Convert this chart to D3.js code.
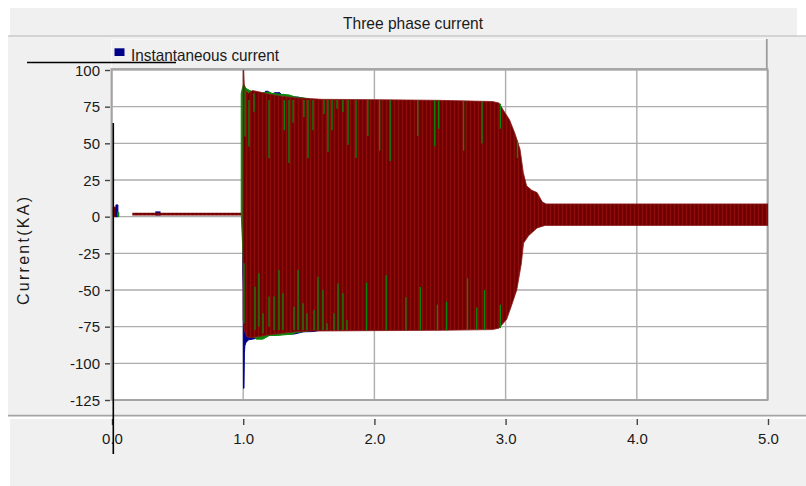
<!DOCTYPE html>
<html><head><meta charset="utf-8">
<script src="https://cdn.jsdelivr.net/npm/d3@7"></script>
<style>
html,body{margin:0;padding:0;background:#fff;}
svg{display:block;font-family:"Liberation Sans",Arial,Helvetica,sans-serif;}
</style>
</head><body>
<svg id="chart" width="806" height="486"></svg>
<script>
// ---------------- DATA ----------------
const chartTitle = "Three phase current";
const legendLabel = "Instantaneous current";
const yAxisTitle = "Current(KA)";
const xTickValues = [0, 1, 2, 3, 4, 5];
const xTickLabels = ["0.0", "1.0", "2.0", "3.0", "4.0", "5.0"];
const yTickValues = [100, 75, 50, 25, 0, -25, -50, -75, -100, -125];
const yTickLabels = ["100", "75", "50", "25", "0", "-25", "-50", "-75", "-100", "-125"];

// Pre-fault (t < 1 s) small currents, envelope per phase
const redPreT = [0.010, 0.020, 0.030, 0.036];
const redPreHi = [6.5, 6.6, 6.0, 5.0];
const bluePreT = [0.030, 0.045];
const bluePreHi = [8.0, 8.0];
const greenPreT = [0.044, 0.052];
const greenPreHi = [3.0, 3.0];
const loadBandT = [0.155, 0.998];
const loadBandHi = [2.7, 2.7];
const loadBandLo = [0.8, 0.8];
const blueBumpT = [0.33, 0.37];
const blueBumpHi = [3.6, 3.6];

// Fault current envelopes (kA) – phase C (red)
const redUpT = [0.998, 1.000, 1.004, 1.008, 1.02, 1.04, 1.07, 1.10, 1.15, 1.20, 1.30, 1.40, 1.50, 1.60, 2.00, 2.50, 2.90, 2.95, 2.98, 3.03, 3.07, 3.11, 3.135, 3.16, 3.20, 3.24, 3.28, 3.31, 5.00];
const redUpV = [0, 100, 100, 90, 86, 84, 86, 85.5, 84.5, 83.5, 82, 81, 80.5, 80, 79.8, 79.3, 78.5, 77.5, 73, 66, 57, 46, 30, 21, 18, 16.4, 10, 8.7, 8.7];
const redDnT = [0.998, 1.000, 1.010, 1.03, 1.06, 1.10, 1.20, 1.30, 1.40, 1.50, 2.00, 2.50, 2.90, 2.95, 3.008, 3.04, 3.085, 3.12, 3.137, 3.175, 3.24, 3.30, 5.00];
const redDnV = [0, -70, -78, -82, -82.5, -82, -80.5, -79.5, -78.5, -78, -77.7, -77.5, -77, -76, -70, -62, -50, -32, -18, -13, -7.7, -6, -6];

// phase A (blue)
const blueUpT = [1.000, 1.15, 1.17, 1.19, 1.21, 1.24, 1.28, 1.30, 1.31, 1.33, 1.42, 1.50];
const blueUpV = [0, 83, 85.5, 85.5, 83, 84.5, 84.5, 82, 83.5, 82, 81.5, 80];
const blueDnT = [0.997, 1.000, 1.002, 1.006, 1.009, 1.013, 1.02, 1.04, 1.07, 1.10, 1.16, 1.20, 1.25, 1.31, 1.39, 1.46, 1.54, 1.60];
const blueDnV = [-36, -50, -117, -117, -93, -88, -86, -84, -83.5, -83, -81, -81, -80, -80, -80, -78.5, -78.3, -77];

// phase B (green)
const greenUpT = [0.985, 0.995, 1.003, 1.008, 1.012, 1.03, 1.05, 1.10, 1.20, 1.22, 1.35, 1.40, 1.50];
const greenUpV = [84, 88, 90, 90, 88, 87, 86, 84, 85, 84, 83, 81.5, 80.5];
const greenDnT = [0.985, 1.000, 1.010, 1.05, 1.10, 1.15, 1.20, 1.26, 1.38, 1.40, 1.50];
const greenDnV = [2.5, -30, -76, -80, -83.5, -83.5, -81, -81, -80, -79, -78];

// individual green peaks visible inside the red band
const greenSpikeT  = [1.014, 1.044, 1.082, 1.197, 1.313, 1.349, 1.380, 1.463, 1.494, 1.532, 1.616, 1.646, 1.677, 1.715, 1.760, 1.799, 1.86, 1.95, 2.04, 2.12, 2.33, 2.46, 2.49, 2.68, 2.82, 2.96, 3.09,
                      1.006, 1.090, 1.120, 1.151, 1.197, 1.235, 1.273, 1.303, 1.387, 1.418, 1.456, 1.486, 1.540, 1.570, 1.608, 1.639, 1.692, 1.723, 1.760, 1.791, 1.94, 2.09, 2.24, 2.35, 2.48, 2.55, 2.71, 2.78, 2.84, 2.96];
const greenSpikeHi = [88.8, 79.6, 84, 79.6, 79.6, 79.6, 79.6, 79.6, 79.6, 79.6, 79.6, 79.6, 79.6, 79.6, 79.6, 79.6, 79.5, 79.5, 79.5, 79.3, 79.3, 79.3, 79.2, 79, 78.6, 77, 52,
                      -31.8, -47.7, -38.6, -65.9, -54.5, -54.5, -36.4, -52.3, -61.4, -36.4, -59, -65.9, -63.6, -40.9, -50, -72.7, -65.9, -45.5, -52.3, -70.5, -45, -40, -55, -48, -60, -58, -42, -62, -50, -60];
const greenSpikeLo = [54.6, 47.9, 71.6, 39.8, 59, 36.6, 64, 68, 39.8, 59, 70, 44.3, 59, 73.6, 71.4, 49, 40, 55, 45, 38, 55, 48, 60, 45, 50, 60, 40,
                      -72.7, -77.3, -75, -79.5, -75, -77.3, -77.3, -77.3, -77.3, -77.3, -77.3, -77.3, -77.3, -77.3, -77.3, -77.3, -77.3, -77.3, -77.3, -77.3, -77.5, -77.5, -77.5, -77.5, -77.5, -77.5, -77, -77, -77, -76];

// ---------------- LAYOUT ----------------
const svg = d3.select("#chart");
const plot = {left: 112, right: 768, top: 70, bottom: 400};
const x = d3.scaleLinear().domain([0, 5]).range([plot.left, plot.right]);
const y = d3.scaleLinear().domain([-125, 100]).range([plot.bottom, plot.top]);

const RED = "#7d0000", BLUE = "#00008f", GREEN = "#0a870a";

const defs = svg.append("defs");
const pat = defs.append("pattern").attr("id", "stripes").attr("patternUnits", "userSpaceOnUse")
  .attr("width", 4).attr("height", 10);
pat.append("rect").attr("width", 4).attr("height", 10).attr("fill", "#800000");
pat.append("rect").attr("x", 0).attr("width", 1).attr("height", 10).attr("fill", "#6c0000");
pat.append("rect").attr("x", 2).attr("width", 1).attr("height", 10).attr("fill", "#8c0c0c");
defs.append("clipPath").attr("id", "plotclip").append("rect")
  .attr("x", plot.left).attr("y", plot.top).attr("width", plot.right - plot.left).attr("height", plot.bottom - plot.top);

// background panels
svg.append("rect").attr("x", 0).attr("y", 0).attr("width", 806).attr("height", 486).attr("fill", "#ffffff");
svg.append("rect").attr("x", 10).attr("y", 8).attr("width", 787).attr("height", 28).attr("fill", "#f0f0f0");
svg.append("rect").attr("x", 8).attr("y", 36.5).attr("width", 798).attr("height", 378.5).attr("fill", "#f0f0f0");
svg.append("rect").attr("x", 10).attr("y", 419).attr("width", 796).attr("height", 67).attr("fill", "#f0f0f0");
svg.append("line").attr("x1", 8).attr("x2", 806).attr("y1", 36).attr("y2", 36).attr("stroke", "#b2b2b2").attr("stroke-width", 1);
svg.append("line").attr("x1", 8).attr("x2", 806).attr("y1", 415.7).attr("y2", 415.7).attr("stroke", "#a4a4a4").attr("stroke-width", 1.8);

// title
svg.append("text").attr("x", 413).attr("y", 29).attr("text-anchor", "middle")
  .attr("font-size", 17).attr("fill", "#1a1a1a")
  .attr("textLength", 140).attr("lengthAdjust", "spacingAndGlyphs").text(chartTitle);

// legend box
svg.append("rect").attr("x", 112).attr("y", 39).attr("width", 655).attr("height", 30).attr("fill", "#f0f0f0");
svg.append("line").attr("x1", 111.5).attr("x2", 767).attr("y1", 39.5).attr("y2", 39.5).attr("stroke", "#fafafa").attr("stroke-width", 1);
svg.append("line").attr("x1", 111.5).attr("x2", 111.5).attr("y1", 39.5).attr("y2", 69).attr("stroke", "#fafafa").attr("stroke-width", 1);
svg.append("line").attr("x1", 766.8).attr("x2", 766.8).attr("y1", 39).attr("y2", 69).attr("stroke", "#9c9c9c").attr("stroke-width", 1.8);
svg.append("rect").attr("x", 114.5).attr("y", 48.3).attr("width", 10).attr("height", 7.7).attr("fill", "#000088");
svg.append("text").attr("x", 131).attr("y", 60.5).attr("font-size", 16.5).attr("fill", "#1a1a1a")
  .attr("textLength", 148).attr("lengthAdjust", "spacingAndGlyphs").text(legendLabel);

// plot area
svg.append("rect").attr("x", plot.left).attr("y", plot.top).attr("width", plot.right - plot.left)
  .attr("height", plot.bottom - plot.top).attr("fill", "#ffffff");

// grid
const grid = svg.append("g");
grid.selectAll("line.h").data(yTickValues).enter().append("line")
  .attr("x1", plot.left).attr("x2", plot.right).attr("y1", d => y(d)).attr("y2", d => y(d))
  .attr("stroke", "#adadad").attr("stroke-width", 1.4);
grid.selectAll("line.v").data(xTickValues).enter().append("line")
  .attr("x1", d => x(d)).attr("x2", d => x(d)).attr("y1", plot.top).attr("y2", plot.bottom)
  .attr("stroke", "#adadad").attr("stroke-width", 1.4);

// plot border
svg.append("rect").attr("x", plot.left - 0.5).attr("y", plot.top - 1).attr("width", plot.right - plot.left)
  .attr("height", plot.bottom - plot.top + 1).attr("fill", "none").attr("stroke", "#a2a2a2").attr("stroke-width", 1.8);

// data
const data = svg.append("g").attr("clip-path", "url(#plotclip)");
const line = d3.line().x(d => x(d[0])).y(d => y(d[1]));
function envelope(upT, upV, dnT, dnV) {
  const pts = upT.map((t, i) => [t, upV[i]]);
  const low = dnT.map((t, i) => [t, dnV[i]]).reverse();
  return line(pts.concat(low)) + "Z";
}
function bar(ts, his, los) {
  const step = ts.map((t, i) => [t, his[i]]);
  const lo = ts.map((t, i) => [t, los ? los[i] : 0]).reverse();
  return line(step.concat(lo)) + "Z";
}
// pre-fault
data.append("path").attr("d", bar(redPreT, redPreHi)).attr("fill", RED).attr("stroke", RED).attr("stroke-width", 1);
data.append("path").attr("d", bar(bluePreT, bluePreHi)).attr("fill", BLUE).attr("stroke", BLUE).attr("stroke-width", 1);
data.append("path").attr("d", bar(greenPreT, greenPreHi)).attr("fill", GREEN).attr("stroke", GREEN).attr("stroke-width", 1);
data.append("path").attr("d", bar(blueBumpT, blueBumpHi, loadBandLo)).attr("fill", BLUE);
data.append("path").attr("d", bar(loadBandT, loadBandHi, loadBandLo)).attr("fill", "url(#stripes)");

// fault envelopes: blue, green under red
data.append("path").attr("d", envelope(blueUpT, blueUpV, blueDnT, blueDnV)).attr("fill", BLUE).attr("stroke", BLUE).attr("stroke-width", 1);
data.append("path").attr("d", envelope(greenUpT, greenUpV, greenDnT, greenDnV)).attr("fill", GREEN).attr("stroke", GREEN).attr("stroke-width", 1);
data.append("path").attr("d", envelope(redUpT, redUpV, redDnT, redDnV)).attr("fill", "url(#stripes)")
  .attr("stroke", "#8a1a1a").attr("stroke-width", 0.8);

// green peaks
data.selectAll("line.gs").data(greenSpikeT).enter().append("line")
  .attr("x1", d => x(d)).attr("x2", d => x(d))
  .attr("y1", (d, i) => y(greenSpikeHi[i])).attr("y2", (d, i) => y(greenSpikeLo[i]))
  .attr("stroke", GREEN).attr("stroke-width", 1.3);

// axes
const yAxis = d3.axisLeft(y).tickValues(yTickValues).tickSize(5).tickPadding(5)
  .tickFormat((d, i) => yTickLabels[i]);
const gy = svg.append("g").attr("transform", `translate(110,0)`).call(yAxis);
gy.select(".domain").remove();
gy.selectAll(".tick line").attr("stroke", "#444").attr("stroke-width", 1.4);
gy.selectAll(".tick text").attr("font-size", 15).attr("fill", "#1a1a1a").attr("font-family", "Liberation Sans, Arial, sans-serif").attr("dy", "0.34em");

const xAxis = d3.axisBottom(x).tickValues(xTickValues).tickSize(6).tickPadding(8)
  .tickFormat((d, i) => xTickLabels[i]);
const gx = svg.append("g").attr("transform", `translate(0,419)`).call(xAxis);
gx.select(".domain").remove();
gx.selectAll(".tick line").attr("stroke", "#444").attr("stroke-width", 1.4);
gx.selectAll(".tick text").attr("font-size", 15).attr("fill", "#1a1a1a").attr("font-family", "Liberation Sans, Arial, sans-serif")
  .attr("y", 25).attr("dy", 0);

// y axis title
svg.append("text").attr("transform", "translate(29,251) rotate(-90)").attr("text-anchor", "middle")
  .attr("font-size", 16).attr("fill", "#1a1a1a")
  .attr("textLength", 108).attr("lengthAdjust", "spacing").text(yAxisTitle);

// black marker lines
svg.append("line").attr("x1", 27).attr("x2", 176).attr("y1", 62.5).attr("y2", 62.5).attr("stroke", "#000").attr("stroke-width", 1.6);
svg.append("line").attr("x1", 113.3).attr("x2", 113.3).attr("y1", 123).attr("y2", 454).attr("stroke", "#000").attr("stroke-width", 1.6);
</script>
</body></html>
